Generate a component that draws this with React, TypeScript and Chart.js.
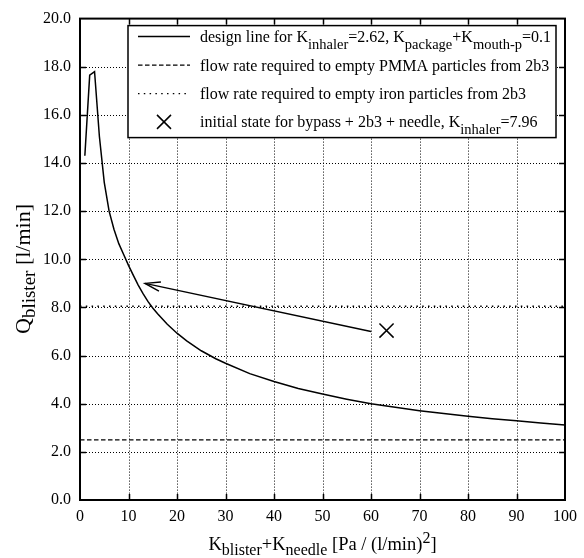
import React, { useEffect, useRef } from 'react';
import { Chart, registerables } from 'chart.js';

Chart.register(...registerables);

// ---- data ----
const designK = [1, 2, 3, 4, 5, 6, 7, 8, 9, 10, 11, 12, 13, 14, 15, 16, 18, 20, 22, 25, 28, 30, 35, 40, 45, 50, 55, 60, 65, 70, 75, 80, 85, 90, 95, 100];
const designQ = [14.3, 17.65, 17.8, 15.1, 13.2, 12.0, 11.25, 10.65, 10.2, 9.75, 9.33, 8.93, 8.57, 8.25, 7.98, 7.74, 7.3, 6.93, 6.61, 6.2, 5.87, 5.68, 5.25, 4.92, 4.63, 4.4, 4.19, 4.0, 3.85, 3.71, 3.59, 3.48, 3.38, 3.29, 3.2, 3.12];
const pmmaK = [0, 100];
const pmmaQ = [2.5, 2.5];
const ironK = [0, 100];
const ironQ = [8.05, 8.05];
const initialK = [63.2];
const initialQ = [7.04];
const arrowK = [60, 13.4];
const arrowQ = [7.0, 9.0];

const xTickValues = [0, 10, 20, 30, 40, 50, 60, 70, 80, 90, 100];
const xTickLabels = ['0', '10', '20', '30', '40', '50', '60', '70', '80', '90', '100'];
const yTickValues = [0, 2, 4, 6, 8, 10, 12, 14, 16, 18, 20];
const yTickLabels = ['0.0', '2.0', '4.0', '6.0', '8.0', '10.0', '12.0', '14.0', '16.0', '18.0', '20.0'];

type Part = { t: string; sub?: boolean; sup?: boolean };

const legendRows: Part[][] = [
  [{ t: 'design line for K' }, { t: 'inhaler', sub: true }, { t: '=2.62, K' }, { t: 'package', sub: true }, { t: '+K' }, { t: 'mouth-p', sub: true }, { t: '=0.1' }],
  [{ t: 'flow rate required to empty PMMA particles from 2b3' }],
  [{ t: 'flow rate required to empty iron particles from 2b3' }],
  [{ t: 'initial state for bypass + 2b3 + needle, K' }, { t: 'inhaler', sub: true }, { t: '=7.96' }],
];
const xTitle: Part[] = [{ t: 'K' }, { t: 'blister', sub: true }, { t: '+K' }, { t: 'needle', sub: true }, { t: ' [Pa / (l/min)' }, { t: '2', sup: true }, { t: ']' }];
const yTitle: Part[] = [{ t: 'Q' }, { t: 'blister', sub: true }, { t: ' [l/min]' }];

const FAMILY = '"Liberation Serif", "Times New Roman", serif';

function richWidth(ctx: CanvasRenderingContext2D, parts: Part[], main: number, small: number) {
  let w = 0;
  for (const p of parts) {
    ctx.font = `${p.sub || p.sup ? small : main}px ${FAMILY}`;
    w += ctx.measureText(p.t).width;
  }
  return w;
}

function drawRich(ctx: CanvasRenderingContext2D, parts: Part[], x: number, y: number, main: number, small: number, subOff: number, supOff: number) {
  let cx = x;
  ctx.textBaseline = 'alphabetic';
  ctx.textAlign = 'left';
  for (const p of parts) {
    ctx.font = `${p.sub || p.sup ? small : main}px ${FAMILY}`;
    const dy = p.sub ? subOff : p.sup ? -supOff : 0;
    ctx.fillText(p.t, cx, y + dy);
    cx += ctx.measureText(p.t).width;
  }
}

const decorPlugin = {
  id: 'decor',
  beforeDatasetsDraw(chart: any) {
    const { ctx, chartArea: ca, scales } = chart;
    ctx.save();
    ctx.strokeStyle = '#000';
    ctx.lineWidth = 1;
    ctx.setLineDash([1, 2]);
    for (const v of xTickValues.slice(1, -1)) {
      const px = Math.round(scales.x.getPixelForValue(v)) + 0.5;
      ctx.beginPath();
      ctx.moveTo(px, ca.top);
      ctx.lineTo(px, ca.bottom);
      ctx.stroke();
    }
    for (const v of yTickValues.slice(1, -1)) {
      const py = Math.round(scales.y.getPixelForValue(v)) + 0.5;
      ctx.beginPath();
      ctx.moveTo(ca.left, py);
      ctx.lineTo(ca.right, py);
      ctx.stroke();
    }
    ctx.restore();
  },
  afterDatasetsDraw(chart: any) {
    const { ctx, chartArea: ca, scales } = chart;
    const xs = scales.x, ys = scales.y;
    ctx.save();
    ctx.strokeStyle = '#000';
    ctx.fillStyle = '#000';
    ctx.setLineDash([]);

    // arrow head
    const tx = xs.getPixelForValue(arrowK[1]), ty = ys.getPixelForValue(arrowQ[1]);
    const fx = xs.getPixelForValue(arrowK[0]), fy = ys.getPixelForValue(arrowQ[0]);
    const ang = Math.atan2(fy - ty, fx - tx);
    const L = 16, spread = 0.3;
    ctx.lineWidth = 1.4;
    ctx.beginPath();
    ctx.moveTo(tx + L * Math.cos(ang - spread), ty + L * Math.sin(ang - spread));
    ctx.lineTo(tx, ty);
    ctx.lineTo(tx + L * Math.cos(ang + spread), ty + L * Math.sin(ang + spread));
    ctx.stroke();

    // ticks inward on all sides
    ctx.lineWidth = 1.5;
    const TL = 6;
    for (const v of xTickValues.slice(1, -1)) {
      const px = Math.round(xs.getPixelForValue(v)) + 0.5;
      ctx.beginPath();
      ctx.moveTo(px, ca.bottom); ctx.lineTo(px, ca.bottom - TL);
      ctx.moveTo(px, ca.top); ctx.lineTo(px, ca.top + TL);
      ctx.stroke();
    }
    for (const v of yTickValues.slice(1, -1)) {
      const py = Math.round(ys.getPixelForValue(v)) + 0.5;
      ctx.beginPath();
      ctx.moveTo(ca.left, py); ctx.lineTo(ca.left + TL, py);
      ctx.moveTo(ca.right, py); ctx.lineTo(ca.right - TL, py);
      ctx.stroke();
    }
    // frame
    ctx.lineWidth = 2;
    ctx.strokeRect(ca.left, ca.top, ca.right - ca.left, ca.bottom - ca.top);

    // legend box
    const lx = ca.left + 48, ly = ca.top + 7, lw = ca.right - 9 - lx, lh = 112;
    ctx.fillStyle = '#fff';
    ctx.fillRect(lx, ly, lw, lh);
    ctx.lineWidth = 1.5;
    ctx.strokeStyle = '#000';
    ctx.strokeRect(lx, ly, lw, lh);

    const rowY = [ly + 11, ly + 39.5, ly + 68, ly + 96.3];
    const sx0 = lx + 10, sx1 = lx + 62;
    ctx.lineWidth = 1.5;
    ctx.beginPath(); ctx.moveTo(sx0, rowY[0]); ctx.lineTo(sx1, rowY[0]); ctx.stroke();
    ctx.lineWidth = 1.3;
    ctx.setLineDash([4.5, 2.5]);
    ctx.beginPath(); ctx.moveTo(sx0, rowY[1]); ctx.lineTo(sx1, rowY[1]); ctx.stroke();
    ctx.setLineDash([1.5, 4.3]);
    ctx.beginPath(); ctx.moveTo(sx0, rowY[2]); ctx.lineTo(sx1, rowY[2]); ctx.stroke();
    ctx.setLineDash([]);
    const mx = (sx0 + sx1) / 2, my = rowY[3], r = 7;
    ctx.lineWidth = 1.5;
    ctx.beginPath();
    ctx.moveTo(mx - r, my - r); ctx.lineTo(mx + r, my + r);
    ctx.moveTo(mx - r, my + r); ctx.lineTo(mx + r, my - r);
    ctx.stroke();

    ctx.fillStyle = '#000';
    const textX = lx + 72;
    legendRows.forEach((row, i) => {
      drawRich(ctx, row, textX, rowY[i] + 5.5, 16, 14.5, 6.5, 6);
    });

    // x title
    const xm = 18.5, xsmall = 16;
    const xw = richWidth(ctx, xTitle, xm, xsmall);
    drawRich(ctx, xTitle, (ca.left + ca.right) / 2 - xw / 2, 550, xm, xsmall, 5, 7);

    // y title (rotated)
    const ym = 22, ysmall = 19;
    const yw = richWidth(ctx, yTitle, ym, ysmall);
    ctx.save();
    ctx.translate(30, 269);
    ctx.rotate(-Math.PI / 2);
    drawRich(ctx, yTitle, -yw / 2, 0, ym, ysmall, 5, 7);
    ctx.restore();

    ctx.restore();
  },
};

export default function App() {
  const canvasRef = useRef<HTMLCanvasElement | null>(null);

  useEffect(() => {
    document.body.style.margin = '0';
    const canvas = canvasRef.current;
    if (!canvas) return;
    const toPts = (xs: number[], ys: number[]) => xs.map((x, i) => ({ x, y: ys[i] }));
    const chart = new Chart(canvas, {
      type: 'scatter',
      data: {
        datasets: [
          { label: 'design', data: toPts(designK, designQ), showLine: true, borderColor: '#000', borderWidth: 1.5, pointRadius: 0, tension: 0 },
          { label: 'pmma', data: toPts(pmmaK, pmmaQ), showLine: true, borderColor: '#000', borderWidth: 1.3, borderDash: [4.5, 2.5], pointRadius: 0 },
          { label: 'iron', data: toPts(ironK, ironQ), showLine: true, borderColor: '#000', borderWidth: 1.3, borderDash: [1.5, 4.3], pointRadius: 0 },
          { label: 'arrow', data: toPts(arrowK, arrowQ), showLine: true, borderColor: '#000', borderWidth: 1.4, pointRadius: 0 },
          { label: 'initial', data: toPts(initialK, initialQ), showLine: false, borderColor: '#000', backgroundColor: '#000', borderWidth: 1.5, pointStyle: 'crossRot', pointRadius: 10 },
        ],
      },
      options: {
        animation: false,
        responsive: true,
        maintainAspectRatio: false,
        layout: { padding: { top: 15, right: 19, left: 0, bottom: 0 } },
        plugins: { legend: { display: false }, tooltip: { enabled: false } },
        scales: {
          x: {
            type: 'linear', min: 0, max: 100,
            grid: { display: false, drawTicks: false },
            border: { display: false },
            afterBuildTicks: (s: any) => { s.ticks = xTickValues.map((v) => ({ value: v })); },
            afterFit: (s: any) => { s.height = 58; },
            ticks: {
              color: '#000', padding: 7, maxRotation: 0,
              font: { family: FAMILY, size: 16 },
              callback: (v: any) => xTickLabels[xTickValues.indexOf(Number(v))] ?? '',
            },
          },
          y: {
            type: 'linear', min: 0, max: 20,
            grid: { display: false, drawTicks: false },
            border: { display: false },
            afterBuildTicks: (s: any) => { s.ticks = yTickValues.map((v) => ({ value: v })); },
            afterFit: (s: any) => { s.width = 80; },
            ticks: {
              color: '#000', padding: 9,
              font: { family: FAMILY, size: 16 },
              callback: (v: any) => yTickLabels[yTickValues.indexOf(Number(v))] ?? '',
            },
          },
        },
      },
      plugins: [decorPlugin],
    } as any);
    return () => chart.destroy();
  }, []);

  return (
    <div style={{ position: 'fixed', left: 0, top: 0, width: 584, height: 558, background: '#fff' }}>
      <canvas ref={canvasRef} />
    </div>
  );
}
